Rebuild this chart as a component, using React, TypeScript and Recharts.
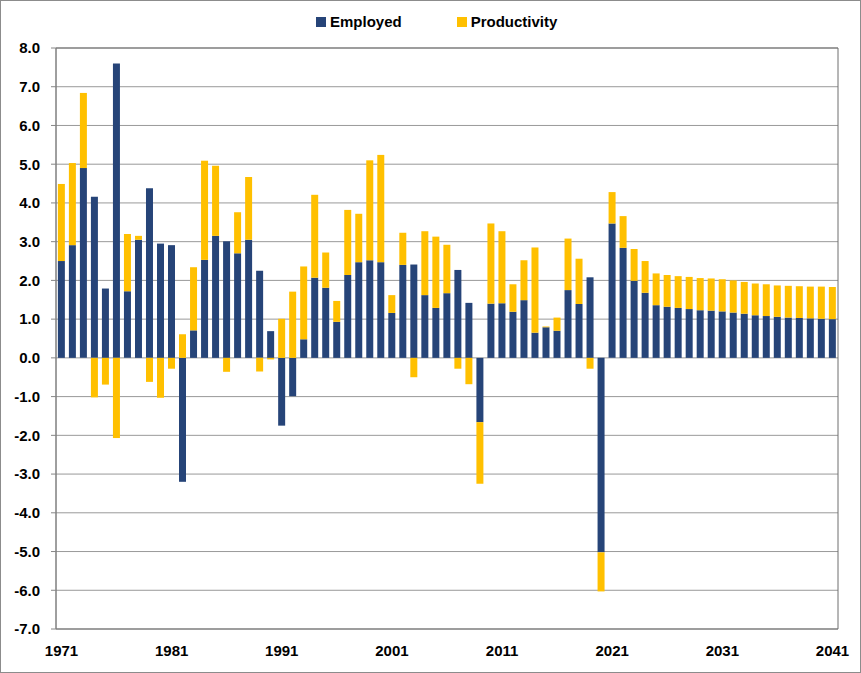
import { BarChart, Bar, XAxis, YAxis, CartesianGrid, Legend, ReferenceArea } from "recharts"

// 연도별 성장 기여도: 고용(Employed) + 생산성(Productivity), % 포인트
const YEARS = [
  "1971", "1972", "1973", "1974", "1975", "1976", "1977", "1978", "1979", "1980",
  "1981", "1982", "1983", "1984", "1985", "1986", "1987", "1988", "1989", "1990",
  "1991", "1992", "1993", "1994", "1995", "1996", "1997", "1998", "1999", "2000",
  "2001", "2002", "2003", "2004", "2005", "2006", "2007", "2008", "2009", "2010",
  "2011", "2012", "2013", "2014", "2015", "2016", "2017", "2018", "2019", "2020",
  "2021", "2022", "2023", "2024", "2025", "2026", "2027", "2028", "2029", "2030",
  "2031", "2032", "2033", "2034", "2035", "2036", "2037", "2038", "2039", "2040",
  "2041",
]

const EMPLOYED = [
  2.5, 2.91, 4.9, 4.16, 1.79, 7.6, 1.72, 3.05, 4.38, 2.95,
  2.91, -3.2, 0.71, 2.53, 3.15, 3.01, 2.7, 3.05, 2.25, 0.69,
  -1.75, -0.99, 0.48, 2.07, 1.81, 0.93, 2.14, 2.47, 2.52, 2.47,
  1.16, 2.4, 2.41, 1.62, 1.29, 1.67, 2.27, 1.42, -1.66, 1.4,
  1.41, 1.19, 1.49, 0.65, 0.79, 0.7, 1.75, 1.39, 2.08, -5.02,
  3.47, 2.84, 1.99, 1.68, 1.36, 1.32, 1.29, 1.26, 1.23, 1.22,
  1.2, 1.17, 1.14, 1.1, 1.08, 1.06, 1.04, 1.03, 1.02, 1.01,
  1.0,
]

const PRODUCTIVITY = [
  1.99, 2.12, 1.94, -1.02, -0.69, -2.07, 1.48, 0.1, -0.62, -1.03,
  -0.28, 0.61, 1.63, 2.56, 1.81, -0.36, 1.06, 1.62, -0.35, -0.04,
  1.01, 1.71, 1.88, 2.14, 0.91, 0.54, 1.68, 1.25, 2.58, 2.77,
  0.46, 0.83, -0.5, 1.65, 1.84, 1.25, -0.28, -0.68, -1.59, 2.07,
  1.86, 0.71, 1.03, 2.2, 0.02, 0.34, 1.33, 1.17, -0.28, -1.01,
  0.81, 0.82, 0.82, 0.82, 0.82, 0.82, 0.82, 0.83, 0.83, 0.83,
  0.83, 0.83, 0.82, 0.82, 0.82, 0.81, 0.82, 0.82, 0.82, 0.83,
  0.83,
]

const Y_TICKS = [-7, -6, -5, -4, -3, -2, -1, 0, 1, 2, 3, 4, 5, 6, 7, 8]

const SERIES = [
  { key: "employed", name: "Employed", color: "#264478" },
  { key: "productivity", name: "Productivity", color: "#FFC000" },
]

const FONT = "'Liberation Sans', Arial, sans-serif"
const tickStyle = { fontSize: 15, fontWeight: 700, fill: "#000", fontFamily: FONT }

function LegendContent() {
  return (
    <div
      style={{
        height: 35,
        display: "flex",
        justifyContent: "flex-start",
        alignItems: "flex-start",
        gap: 55,
        paddingLeft: 315,
        fontFamily: FONT,
        fontSize: 15,
        fontWeight: 700,
        color: "#000",
        lineHeight: "18px",
      }}
    >
      {SERIES.map((s) => (
        <span key={s.key} style={{ display: "flex", alignItems: "center", gap: 4 }}>
          <span style={{ width: 10, height: 10, background: s.color, display: "inline-block" }} />
          {s.name}
        </span>
      ))}
    </div>
  )
}

export default function App() {
  const data = YEARS.map((year, i) => ({
    year,
    employed: EMPLOYED[i],
    productivity: PRODUCTIVITY[i],
  }))

  return (
    <div
      style={{
        position: "absolute",
        left: 0,
        top: 0,
        width: 861,
        height: 673,
        boxSizing: "border-box",
        border: "1px solid #8c8c8c",
        background: "#fff",
      }}
    >
      <BarChart
        width={859}
        height={671}
        data={data}
        stackOffset="sign"
        barCategoryGap="17%"
        margin={{ top: 12, right: 22, bottom: 0, left: 0 }}
      >
        <CartesianGrid vertical={false} stroke="#999" />
        <ReferenceArea y1={-7} y2={8} fill="none" stroke="#6f6f6f" />
        <XAxis
          dataKey="year"
          interval={9}
          axisLine={false}
          tickLine={false}
          tickMargin={10}
          height={43}
          tick={tickStyle}
        />
        <YAxis
          domain={[-7, 8]}
          ticks={Y_TICKS}
          width={55}
          tickFormatter={(v: number) => v.toFixed(1)}
          tick={tickStyle}
          tickSize={5}
          tickMargin={11}
          axisLine={{ stroke: "#868686" }}
          tickLine={{ stroke: "#868686" }}
        />
        <Legend verticalAlign="top" content={<LegendContent />} wrapperStyle={{ left: 0, width: 859 }} />
        {SERIES.map((s) => (
          <Bar
            key={s.key}
            dataKey={s.key}
            name={s.name}
            stackId="a"
            fill={s.color}
            isAnimationActive={false}
          />
        ))}
      </BarChart>
    </div>
  )
}
